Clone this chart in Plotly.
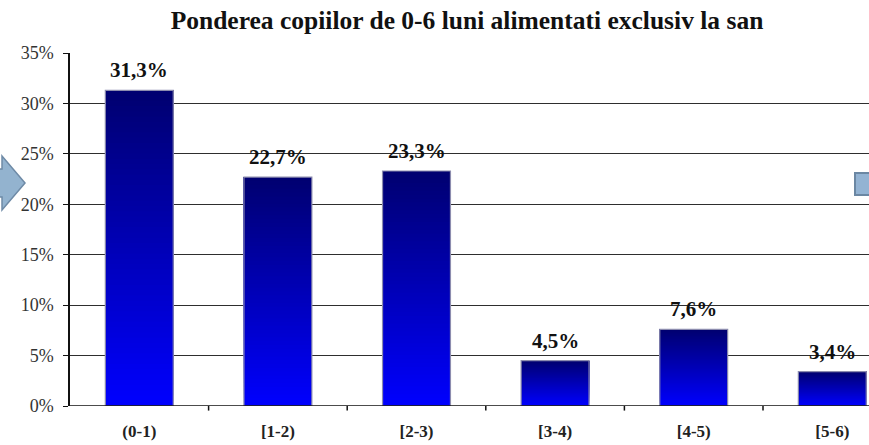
import plotly.graph_objects as go
import numpy as np

categories = ["(0-1)", "[1-2)", "[2-3)", "[3-4)", "[4-5)", "[5-6)"]
values = [31.3, 22.7, 23.3, 4.5, 7.6, 3.4]
labels = ["31,3%", "22,7%", "23,3%", "4,5%", "7,6%", "3,4%"]
y_ticks = [0, 5, 10, 15, 20, 25, 30, 35]
y_ticktext = ["0%", "5%", "10%", "15%", "20%", "25%", "30%", "35%"]
title_text = "Ponderea copiilor de 0-6 luni alimentati exclusiv la san"

W, H = 869, 445
L, R, T, B = 70, 0, 53, 39
SERIF = "Liberation Serif, Times New Roman, serif"

fig = go.Figure()

# gradient bars: layered traces, each from a slice start up to the bar top,
# bright blue at the bottom -> dark navy at the top
N = 60
top_rgb = np.array([0, 0, 112])
bot_rgb = np.array([0, 0, 255])
xs = list(range(len(categories)))
for k in range(N):
    t = (k + 0.5) / N
    c = bot_rgb + (top_rgb - bot_rgb) * t
    col = "rgb(%d,%d,%d)" % tuple(c.astype(int))
    fig.add_trace(go.Bar(
        x=xs, y=[v * (1 - k / N) for v in values], base=[v * k / N for v in values],
        marker=dict(color=col, line=dict(width=0)),
        showlegend=False, hoverinfo="skip", width=0.49,
    ))
# outline
fig.add_trace(go.Bar(
    x=xs, y=values, base=0,
    marker=dict(color="rgba(0,0,0,0)", line=dict(color="#8c8cae", width=1.2)),
    showlegend=False, hoverinfo="skip", width=0.49,
))

for i, (v, lab) in enumerate(zip(values, labels)):
    fig.add_annotation(x=i, y=v, text="<b>%s</b>" % lab, showarrow=False,
                       yshift=20, font=dict(family=SERIF, size=21, color="#111"),
                       xref="x", yref="y")

fig.update_layout(
    width=W, height=H,
    barmode="overlay",
    margin=dict(l=L, r=R, t=T, b=B),
    paper_bgcolor="white", plot_bgcolor="white",
    title=dict(text="<b>%s</b>" % title_text, x=(467 - L) / (W - L - R), xref="paper",
               xanchor="center", y=1 - 20 / H, yanchor="middle",
               font=dict(family=SERIF, size=25.5, color="#111")),
    xaxis=dict(
        tickmode="array", tickvals=xs, ticktext=["<b>%s</b>" % c for c in categories],
        range=[-0.5, -0.5 + (W - L) / 138.6],
        showline=False, showgrid=False, zeroline=False,
        ticks="", ticklabelstandoff=13,
        tickfont=dict(family=SERIF, size=17, color="#222"),
    ),
    yaxis=dict(
        range=[0, 35], tickmode="array", tickvals=y_ticks, ticktext=y_ticktext,
        showgrid=True, gridcolor="#2e2e2e", gridwidth=1,
        showline=True, linecolor="#111", linewidth=1.5,
        ticks="outside", ticklen=5, tickcolor="#111", ticklabelstandoff=6,
        zeroline=False, layer="below traces",
        tickfont=dict(family=SERIF, size=18, color="#333"),
    ),
    bargap=0.51,
)

# x-axis baseline with tick marks between categories
fig.add_shape(type="line", xref="paper", yref="y", x0=0, x1=1, y0=0, y1=0,
              line=dict(color="#111", width=1.5), layer="above")
for b in [0.5, 1.5, 2.5, 3.5, 4.5]:
    fig.add_shape(type="line", xref="x", yref="paper", x0=b, x1=b, y0=0, y1=-0.013,
                  line=dict(color="#111", width=1.5), layer="above")

# decorative slide elements (arrow on the left, square on the right)
def px(x, y):
    return (x - L) / (W - L - R), (H - B - y) / (H - T - B)
pts = [(-10, 169), (2, 169), (2, 156), (25, 183), (2, 210), (2, 197), (-10, 197)]
path = "M " + " L ".join("%.4f %.4f" % px(x, y) for x, y in pts) + " Z"
fig.add_shape(type="path", xref="paper", yref="paper", path=path,
              fillcolor="#93b3cf", line=dict(color="#6e8aa6", width=1.5), layer="above")
sx0, sy0 = px(855, 173)
sx1, sy1 = px(880, 195)
fig.add_shape(type="rect", xref="paper", yref="paper", x0=sx0, x1=sx1, y0=sy1, y1=sy0,
              fillcolor="#93b3d3", line=dict(color="#6b87a3", width=2), layer="above")

fig.write_html("out.html", config={"displayModeBar": False},
               post_script="document.body.style.margin='0';document.body.style.overflow='hidden';")
